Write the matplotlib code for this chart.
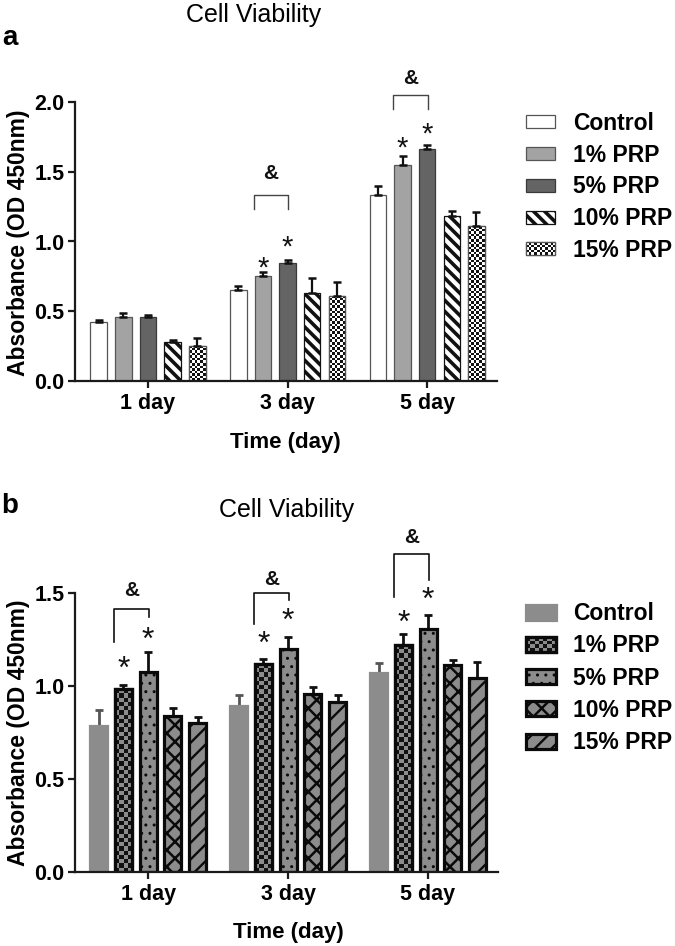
import numpy as np
import matplotlib
matplotlib.use("Agg")
import matplotlib.pyplot as plt
from matplotlib.patches import Rectangle
from matplotlib.colors import ListedColormap

plt.rcParams['font.family'] = ['Liberation Sans', 'DejaVu Sans']

# ---------------- data ----------------
days = ['1 day', '3 day', '5 day']
groups = ['Control', '1% PRP', '5% PRP', '10% PRP', '15% PRP']

a_control = [0.425, 0.65, 1.33]
a_control_err = [0.012, 0.03, 0.07]
a_prp1 = [0.46, 0.755, 1.55]
a_prp1_err = [0.025, 0.025, 0.06]
a_prp5 = [0.457, 0.845, 1.66]
a_prp5_err = [0.015, 0.025, 0.03]
a_prp10 = [0.277, 0.63, 1.18]
a_prp10_err = [0.017, 0.11, 0.04]
a_prp15 = [0.253, 0.61, 1.11]
a_prp15_err = [0.055, 0.10, 0.10]

b_control = [0.785, 0.89, 1.07]
b_control_err = [0.085, 0.06, 0.05]
b_prp1 = [0.98, 1.115, 1.22]
b_prp1_err = [0.025, 0.03, 0.06]
b_prp5 = [1.075, 1.20, 1.305]
b_prp5_err = [0.105, 0.06, 0.075]
b_prp10 = [0.837, 0.955, 1.11]
b_prp10_err = [0.045, 0.04, 0.03]
b_prp15 = [0.80, 0.91, 1.04]
b_prp15_err = [0.03, 0.04, 0.085]

a_yticks = [0.0, 0.5, 1.0, 1.5, 2.0]
b_yticks = [0.0, 0.5, 1.0, 1.5]

# significance marks: (day index, series index, y)
a_stars = [(1, 1, 0.87), (1, 2, 1.02), (2, 1, 1.73), (2, 2, 1.83)]
b_stars = [(0, 1, 1.14), (0, 2, 1.30), (1, 1, 1.276), (1, 2, 1.40), (2, 1, 1.39), (2, 2, 1.51)]
# brackets: (day index, top, left bottom, right bottom, & centre)
a_brackets = [(1, 1.33, 1.23, 1.23, 1.505), (2, 2.05, 1.95, 1.95, 2.186)]
b_brackets = [(0, 1.414, 1.235, 1.37, 1.524), (1, 1.50, 1.33, 1.46, 1.58), (2, 1.71, 1.475, 1.57, 1.81)]

W, H = 675, 946
fig = plt.figure(figsize=(W / 100, H / 100), dpi=100)


def ax_rect(left, right, bottom_px, top_px):
    return [left / W, 1 - bottom_px / H, (right - left) / W, (bottom_px - top_px) / H]


axa = fig.add_axes(ax_rect(75, 497, 381, 102))
axb = fig.add_axes(ax_rect(75, 498, 871.7, 592.7))

x = np.arange(len(days))
step = 0.1765
offsets = (np.arange(len(groups)) - 2) * step

checker_jobs = []


def set_hlw(container, lw):
    for r in container:
        try:
            r.set_hatch_linewidth(lw)
        except AttributeError:
            plt.rcParams['hatch.linewidth'] = lw


def style_axes(ax, yticks, ylim):
    ax.set_xlim(-0.523, 2.50)
    ax.set_ylim(*ylim)
    ax.set_xticks(x, days)
    ax.set_yticks(yticks, [f'{v:.1f}' for v in yticks])
    for s in ['top', 'right']:
        ax.spines[s].set_visible(False)
    for s in ['left', 'bottom']:
        ax.spines[s].set_linewidth(1.6)
        ax.spines[s].set_color('#1a1a1a')
    ax.tick_params(axis='x', length=5, width=1.6, pad=3.5, labelsize=15.5, color='#1a1a1a')
    ax.tick_params(axis='y', length=5, width=1.6, pad=2.5, labelsize=15.5, color='#1a1a1a')
    for lab in ax.get_xticklabels() + ax.get_yticklabels():
        lab.set_fontweight('bold')
    ax.patch.set_alpha(0)


# ---------------- panel a ----------------
wa = 0.118
a_vals = [a_control, a_prp1, a_prp5, a_prp10, a_prp15]
a_errs = [a_control_err, a_prp1_err, a_prp5_err, a_prp10_err, a_prp15_err]
a_face = ['white', '#a3a3a3', '#646464', 'white', 'white']
a_edge = ['#555555', '#555555', '#3a3a3a', '#111111', '#555555']
a_hatch = [None, None, None, '\\\\\\', None]
for i in range(5):
    bc = axa.bar(x + offsets[i], a_vals[i], wa, color=a_face[i], edgecolor=a_edge[i],
                 linewidth=0.9, hatch=a_hatch[i], zorder=2)
    if a_hatch[i]:
        set_hlw(bc, 2.6)
    if i == 4:
        for r in bc:
            checker_jobs.append((axa, r, 2.6, ['white', '#111111'], a_edge[i], 0.9))
    axa.errorbar(x + offsets[i], a_vals[i], yerr=[np.zeros(3), a_errs[i]], fmt='none',
                 ecolor='#111111', elinewidth=1.6, capsize=2.6, capthick=1.8, zorder=3)

style_axes(axa, a_yticks, (0, 2.0))

# ---------------- panel b ----------------
wb = 0.122
b_vals = [b_control, b_prp1, b_prp5, b_prp10, b_prp15]
b_errs = [b_control_err, b_prp1_err, b_prp5_err, b_prp10_err, b_prp15_err]
gray = '#8c8c8c'
b_edge = [gray, '#0a0a0a', '#0a0a0a', '#0a0a0a', '#0a0a0a']
b_hatch = [None, None, '..', 'xx', '//']
b_hlw = [1, 1, 1.0, 1.8, 1.7]
b_ecol = ['#555555', '#111111', '#111111', '#111111', '#111111']
for i in range(5):
    bc = axb.bar(x + offsets[i], b_vals[i], wb, color=gray, edgecolor=b_edge[i],
                 linewidth=2.3, hatch=b_hatch[i], zorder=2)
    if b_hatch[i]:
        set_hlw(bc, b_hlw[i])
    if i == 1:
        for r in bc:
            checker_jobs.append((axb, r, 4.2, ['#111111', gray], '#0a0a0a', 2.3))
    axb.errorbar(x + offsets[i], b_vals[i], yerr=[np.zeros(3), b_errs[i]], fmt='none',
                 ecolor=b_ecol[i], elinewidth=2.0, capsize=2.8, capthick=2.0, zorder=1.9)

style_axes(axb, b_yticks, (0, 1.5))


# ---------------- annotations ----------------
def annotate(ax, stars, brackets, star_size, lcol, llw):
    for d, s, yv in stars:
        ax.annotate('*', xy=(x[d] + offsets[s], yv), xytext=(0, -0.58 * star_size * 100 / 72),
                    textcoords='offset pixels', ha='center', va='baseline',
                    fontsize=star_size, annotation_clip=False, color='#111111')
    for d, top, lb, rb, amp in brackets:
        xl = x[d] + offsets[1] - 0.065
        xr = x[d] + offsets[2] + 0.005
        ax.plot([xl, xl, xr, xr], [lb, top, top, rb], color=lcol, lw=llw, clip_on=False, zorder=4)
        ax.annotate('&', xy=((xl + xr) / 2, amp), xytext=(0, -7.5), textcoords='offset pixels',
                    ha='center', va='baseline', fontsize=15, fontweight='bold',
                    annotation_clip=False, color='#111111')


annotate(axa, a_stars, a_brackets, 21, '#444444', 1.0)
annotate(axb, b_stars, b_brackets, 23, '#111111', 1.2)

# ---------------- overlay (titles, labels, legends) ----------------
ov = fig.add_axes([0, 0, 1, 1])
ov.set_xlim(0, W)
ov.set_ylim(H, 0)
ov.axis('off')

ov.text(254, 22, 'Cell Viability', ha='center', va='baseline', fontsize=18)
ov.text(287, 517, 'Cell Viability', ha='center', va='baseline', fontsize=18)
ov.text(2, 45, 'a', ha='left', va='baseline', fontsize=20, fontweight='bold')
ov.text(1, 513, 'b', ha='left', va='baseline', fontsize=20, fontweight='bold')
ov.text(19, 242.5, 'Absorbance (OD 450nm)', rotation=90, ha='center', va='center',
        fontsize=16.5, fontweight='bold')
ov.text(19, 733, 'Absorbance (OD 450nm)', rotation=90, ha='center', va='center',
        fontsize=16.5, fontweight='bold')
ov.text(285, 448, 'Time (day)', ha='center', va='baseline', fontsize=16, fontweight='bold')
ov.text(288, 938, 'Time (day)', ha='center', va='baseline', fontsize=16, fontweight='bold')

# legend a
for i, lab in enumerate(groups):
    cy = 122 + i * 31.7
    r = Rectangle((525.5, cy - 6.5), 29.5, 13, facecolor=a_face[i], edgecolor=a_edge[i],
                  linewidth=0.9, hatch=a_hatch[i], zorder=2)
    ov.add_patch(r)
    if a_hatch[i]:
        set_hlw([r], 2.6)
    if i == 4:
        checker_jobs.append((ov, r, 2.6, ['white', '#111111'], a_edge[i], 0.9))
    ov.text(573, cy + 8, lab, ha='left', va='baseline', fontsize=16.5, fontweight='bold')

# legend b
for i, lab in enumerate(groups):
    cy = 612 + i * 32.3
    r = Rectangle((525.5, cy - 7.5), 30, 15, facecolor=gray, edgecolor=b_edge[i],
                  linewidth=2.3, hatch=b_hatch[i], zorder=2)
    ov.add_patch(r)
    if b_hatch[i]:
        set_hlw([r], b_hlw[i])
    if i == 1:
        checker_jobs.append((ov, r, 4.2, ['#111111', gray], '#0a0a0a', 2.3))
    ov.text(573, cy + 8, lab, ha='left', va='baseline', fontsize=16.5, fontweight='bold')

# ---------------- checkerboard fills ----------------
for ax, r, cell, cols, ec, lw in checker_jobs:
    xlim, ylim = ax.get_xlim(), ax.get_ylim()
    bb = r.get_window_extent()
    nx = max(2, int(round(bb.width / cell)))
    ny = max(2, int(round(bb.height / cell)))
    arr = np.add.outer(np.arange(ny), np.arange(nx)) % 2
    x0, y0 = r.get_xy()
    w, h = r.get_width(), r.get_height()
    im = ax.imshow(arr, cmap=ListedColormap(cols), vmin=0, vmax=1,
                   extent=(x0, x0 + w, y0, y0 + h), origin='lower',
                   interpolation='nearest', aspect='auto', zorder=r.get_zorder() + 0.1)
    im.set_clip_path(r)
    ax.add_patch(Rectangle((x0, y0), w, h, fill=False, edgecolor=ec, linewidth=lw,
                           zorder=r.get_zorder() + 0.2))
    ax.set_xlim(xlim)
    ax.set_ylim(ylim)

fig.savefig('out.png', dpi=100)
